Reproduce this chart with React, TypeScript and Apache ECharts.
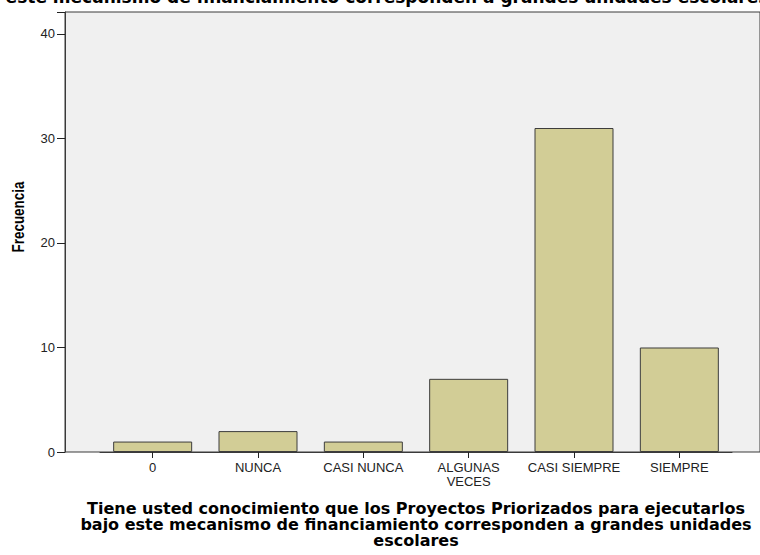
import React, { useEffect, useRef } from "react";
import * as echarts from "echarts";

const categories = ["0", "NUNCA", "CASI NUNCA", "ALGUNAS VECES", "CASI SIEMPRE", "SIEMPRE"];
const frequencies = [1, 2, 1, 7, 31, 10];
const yTicks = [0, 10, 20, 30, 40];
const xTitleLines = [
  "Tiene usted conocimiento que los Proyectos Priorizados para ejecutarlos",
  "bajo este mecanismo de financiamiento corresponden a grandes unidades",
  "escolares",
];
const topTitleTail = "este mecanismo de financiamiento corresponden a grandes unidades escolares";
const yName = "Frecuencia";

const FONT = "'Liberation Sans', Arial, sans-serif";
const BOLD_FONT = "'DejaVu Sans', Verdana, sans-serif";

export default function App() {
  const ref = useRef<HTMLDivElement>(null);
  useEffect(() => {
    if (!ref.current) return;
    const chart = echarts.init(ref.current, undefined, { renderer: "svg" });
    const yMax = 42.1;
    chart.setOption({
      animation: false,
      backgroundColor: "#ffffff",
      textStyle: { fontFamily: FONT },
      grid: [
        {
          left: 65, top: 12, right: -30, height: 440,
          show: true, backgroundColor: "#f0f0f0", borderColor: "#3a3a3a", borderWidth: 1,
        },
        { left: 100, top: 12, width: 632, height: 440 },
      ],
      xAxis: [
        { type: "value", gridIndex: 0, show: false, min: 0, max: 1 },
        {
          type: "category", gridIndex: 1, data: categories,
          axisLine: { show: true, lineStyle: { color: "#3a3a3a", width: 1 } },
          axisTick: { show: true, alignWithLabel: true, interval: 0, length: 6, lineStyle: { color: "#222" } },
          axisLabel: {
            interval: 0, margin: 8, fontSize: 13, color: "#222", fontFamily: FONT, lineHeight: 14,
            formatter: (v: string) => (v.length > 12 ? v.replace(" ", "\n") : v),
          },
        },
      ],
      yAxis: [
        {
          type: "value", gridIndex: 0, min: 0, max: yMax, interval: 10,
          axisLine: { show: true, lineStyle: { color: "#3a3a3a" } },
          axisTick: { show: true, length: 8, lineStyle: { color: "#222" } },
          splitLine: { show: false },
          axisLabel: {
            margin: 10, fontSize: 13, color: "#222", fontFamily: FONT,
            formatter: (v: number) => (yTicks.includes(v) ? String(v) : ""),
          },
        },
        { type: "value", gridIndex: 1, min: 0, max: yMax, show: false },
      ],
      series: [
        {
          type: "bar", xAxisIndex: 1, yAxisIndex: 1, data: frequencies, barWidth: 79,
          itemStyle: { color: "#d2cd96", borderColor: "#3d3d3d", borderWidth: 1 },
        },
      ],
      graphic: [
        {
          type: "text", x: 387, y: -3,
          style: {
            text: topTitleTail, align: "center", verticalAlign: "middle",
            font: `bold 17px ${BOLD_FONT}`, fill: "#000",
          },
        },
        {
          type: "text", x: 19, y: 217, rotation: Math.PI / 2, scaleX: 0.84,
          style: {
            text: yName, align: "center", verticalAlign: "middle",
            font: `bold 16px ${FONT}`, fill: "#000",
          },
        },
        {
          type: "text", x: 416, y: 500,
          style: {
            text: xTitleLines.join("\n"), align: "center", verticalAlign: "top",
            font: `bold 16px ${BOLD_FONT}`, lineHeight: 16, fill: "#000",
          },
        },
      ],
    });
    return () => chart.dispose();
  }, []);
  return <div ref={ref} style={{ width: 760, height: 555, position: "absolute", left: 0, top: 0 }} />;
}
